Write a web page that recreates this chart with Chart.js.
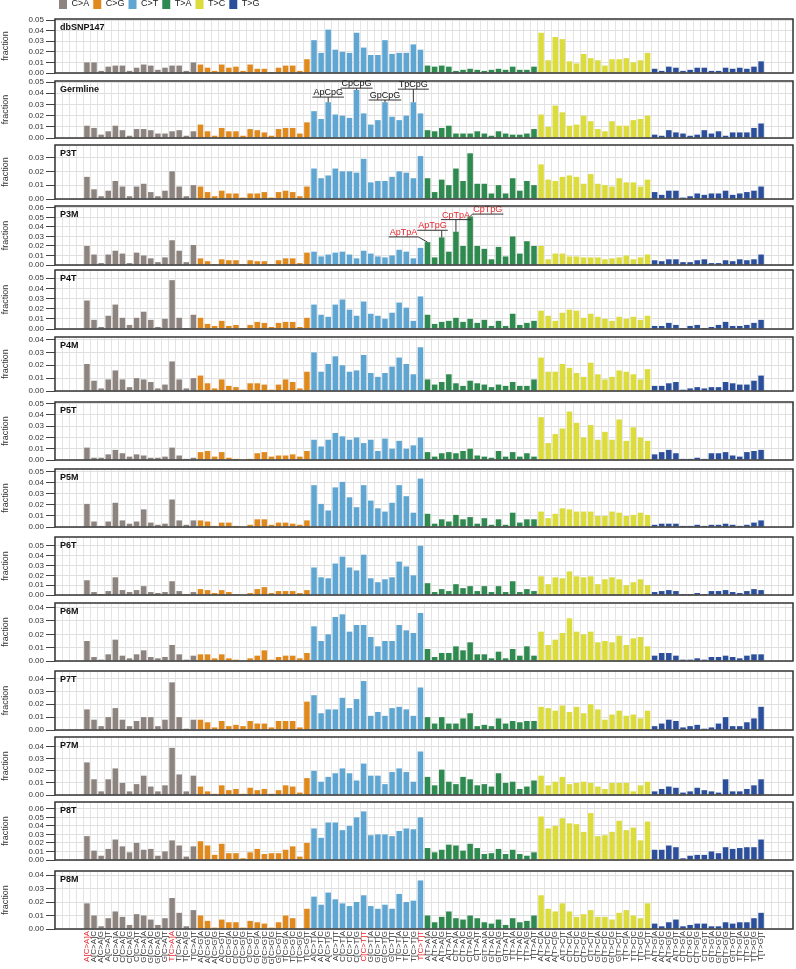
<!DOCTYPE html>
<html>
<head>
<meta charset="utf-8">
<script src="https://cdn.jsdelivr.net/npm/chart.js@4"></script>
<style>
  body { margin: 0; background: #fff; }
  #wrap { position: relative; width: 796px; height: 969px; overflow: hidden; }
  #wrap canvas { position: absolute; left: 0; }
</style>
</head>
<body>
<div id="wrap"></div>
<script>
const FONT = "'Liberation Sans Narrow', 'Liberation Sans', Arial, sans-serif";

// ---- data ----
const subTypes = ['C>A', 'C>G', 'C>T', 'T>A', 'T>C', 'T>G'];
const bases = ['A', 'C', 'G', 'T'];
const typeColors = ['#8d8480', '#e08a1e', '#5fa7d2', '#2f8a50', '#dcdc3c', '#2c4f9b'];
const redLabels = [0, 12, 39, 47];

const dbSNP147 = [
  0.010,0.010,0.002,0.006,0.007,0.007,0.002,0.005,0.008,0.007,0.003,0.005,0.007,0.007,0.002,0.010,
  0.008,0.005,0.002,0.008,0.005,0.006,0.002,0.008,0.004,0.004,0.001,0.005,0.007,0.007,0.002,0.013,
  0.031,0.019,0.041,0.022,0.020,0.019,0.038,0.024,0.017,0.017,0.031,0.018,0.019,0.019,0.027,0.022,
  0.007,0.006,0.007,0.006,0.002,0.003,0.004,0.003,0.002,0.003,0.004,0.003,0.006,0.003,0.003,0.006,
  0.038,0.012,0.034,0.032,0.011,0.009,0.018,0.014,0.012,0.007,0.013,0.013,0.014,0.010,0.012,0.019,
  0.004,0.002,0.006,0.005,0.002,0.003,0.005,0.005,0.002,0.002,0.005,0.004,0.005,0.004,0.006,0.011];
const germline = [
  0.011,0.009,0.003,0.006,0.011,0.007,0.002,0.008,0.008,0.007,0.004,0.004,0.006,0.007,0.002,0.006,
  0.012,0.006,0.002,0.009,0.006,0.006,0.002,0.008,0.007,0.005,0.002,0.008,0.009,0.009,0.004,0.014,
  0.024,0.017,0.032,0.021,0.020,0.018,0.043,0.022,0.012,0.016,0.032,0.019,0.016,0.020,0.032,0.022,
  0.007,0.006,0.009,0.011,0.004,0.004,0.004,0.006,0.004,0.002,0.006,0.004,0.003,0.003,0.004,0.008,
  0.021,0.010,0.029,0.023,0.011,0.012,0.020,0.015,0.008,0.006,0.015,0.011,0.011,0.016,0.017,0.020,
  0.003,0.002,0.007,0.005,0.004,0.002,0.003,0.007,0.004,0.006,0.002,0.005,0.005,0.005,0.009,0.013];
const p3T = [
  0.016,0.007,0.002,0.006,0.013,0.009,0.002,0.009,0.011,0.005,0.002,0.006,0.020,0.009,0.002,0.010,
  0.009,0.005,0.002,0.006,0.004,0.004,0.001,0.004,0.004,0.005,0.001,0.005,0.006,0.005,0.002,0.009,
  0.022,0.015,0.017,0.022,0.020,0.020,0.019,0.029,0.012,0.013,0.013,0.016,0.020,0.019,0.015,0.031,
  0.015,0.005,0.014,0.010,0.022,0.013,0.033,0.011,0.011,0.004,0.010,0.004,0.015,0.006,0.013,0.010,
  0.025,0.014,0.013,0.016,0.017,0.016,0.011,0.018,0.011,0.010,0.009,0.015,0.012,0.012,0.009,0.014,
  0.005,0.003,0.006,0.006,0.001,0.002,0.004,0.003,0.004,0.004,0.006,0.003,0.004,0.005,0.006,0.009];
const p3M = [
  0.020,0.011,0.002,0.011,0.015,0.012,0.002,0.013,0.010,0.007,0.003,0.008,0.026,0.015,0.003,0.021,
  0.007,0.004,0.001,0.006,0.005,0.005,0.001,0.005,0.004,0.004,0.001,0.005,0.007,0.007,0.002,0.013,
  0.014,0.009,0.011,0.013,0.014,0.011,0.007,0.015,0.012,0.009,0.008,0.010,0.016,0.014,0.007,0.018,
  0.024,0.008,0.029,0.014,0.035,0.020,0.051,0.020,0.017,0.006,0.019,0.009,0.030,0.012,0.025,0.020,
  0.020,0.006,0.012,0.012,0.009,0.009,0.008,0.008,0.008,0.006,0.007,0.008,0.010,0.006,0.008,0.011,
  0.005,0.004,0.006,0.006,0.003,0.003,0.005,0.006,0.002,0.002,0.005,0.004,0.006,0.005,0.006,0.011];
const p4T = [
  0.028,0.009,0.002,0.013,0.024,0.011,0.004,0.011,0.017,0.009,0.002,0.010,0.048,0.011,0.001,0.014,
  0.011,0.005,0.003,0.008,0.003,0.004,0.001,0.004,0.007,0.006,0.002,0.006,0.007,0.007,0.002,0.011,
  0.024,0.014,0.012,0.024,0.029,0.019,0.013,0.027,0.015,0.013,0.010,0.016,0.026,0.021,0.008,0.032,
  0.014,0.005,0.007,0.008,0.011,0.007,0.010,0.006,0.009,0.003,0.008,0.003,0.015,0.004,0.006,0.008,
  0.018,0.013,0.008,0.016,0.019,0.018,0.011,0.015,0.012,0.010,0.008,0.012,0.010,0.012,0.009,0.013,
  0.003,0.003,0.006,0.004,0.001,0.003,0.004,0.001,0.002,0.004,0.007,0.003,0.003,0.004,0.006,0.009];
const p4M = [
  0.021,0.008,0.002,0.009,0.016,0.009,0.003,0.010,0.009,0.007,0.002,0.005,0.023,0.009,0.002,0.010,
  0.012,0.006,0.002,0.009,0.004,0.003,0.001,0.006,0.006,0.005,0.001,0.005,0.009,0.007,0.002,0.015,
  0.030,0.015,0.021,0.027,0.020,0.015,0.016,0.028,0.014,0.011,0.014,0.019,0.026,0.021,0.013,0.034,
  0.009,0.005,0.007,0.013,0.006,0.004,0.008,0.006,0.005,0.003,0.005,0.004,0.007,0.004,0.004,0.009,
  0.026,0.015,0.015,0.021,0.018,0.014,0.011,0.022,0.013,0.009,0.011,0.016,0.015,0.013,0.009,0.017,
  0.004,0.004,0.006,0.007,0.001,0.002,0.003,0.002,0.003,0.003,0.007,0.006,0.005,0.005,0.008,0.012];
const p5T = [
  0.011,0.002,0.002,0.005,0.009,0.006,0.003,0.005,0.004,0.002,0.002,0.003,0.011,0.004,0.001,0.002,
  0.007,0.008,0.003,0.007,0.002,0.001,0.000,0.001,0.006,0.007,0.003,0.004,0.004,0.005,0.003,0.008,
  0.018,0.012,0.018,0.024,0.021,0.018,0.020,0.015,0.018,0.008,0.019,0.010,0.017,0.010,0.013,0.020,
  0.007,0.003,0.006,0.007,0.006,0.008,0.010,0.004,0.003,0.002,0.008,0.003,0.007,0.003,0.006,0.003,
  0.038,0.015,0.023,0.028,0.043,0.033,0.020,0.031,0.018,0.025,0.018,0.036,0.017,0.029,0.020,0.017,
  0.005,0.007,0.009,0.006,0.001,0.001,0.002,0.001,0.006,0.006,0.007,0.004,0.003,0.007,0.008,0.009];
const p5M = [
  0.021,0.005,0.001,0.005,0.022,0.006,0.003,0.005,0.016,0.004,0.002,0.003,0.025,0.006,0.002,0.006,
  0.006,0.005,0.001,0.004,0.004,0.001,0.000,0.002,0.007,0.007,0.002,0.004,0.004,0.003,0.002,0.006,
  0.038,0.021,0.015,0.036,0.041,0.027,0.018,0.038,0.024,0.017,0.014,0.022,0.038,0.028,0.013,0.044,
  0.012,0.003,0.007,0.005,0.011,0.007,0.009,0.003,0.008,0.002,0.007,0.002,0.013,0.004,0.007,0.007,
  0.014,0.008,0.012,0.017,0.016,0.014,0.014,0.014,0.010,0.010,0.014,0.013,0.010,0.011,0.013,0.011,
  0.002,0.003,0.003,0.003,0.001,0.001,0.002,0.001,0.002,0.002,0.003,0.002,0.001,0.002,0.004,0.006];
const p6T = [
  0.015,0.003,0.001,0.004,0.018,0.005,0.003,0.005,0.009,0.003,0.002,0.003,0.014,0.004,0.001,0.003,
  0.006,0.005,0.002,0.005,0.003,0.001,0.000,0.002,0.006,0.008,0.002,0.004,0.004,0.004,0.002,0.005,
  0.028,0.018,0.017,0.032,0.039,0.028,0.025,0.041,0.017,0.013,0.016,0.018,0.034,0.029,0.020,0.050,
  0.012,0.003,0.006,0.004,0.011,0.007,0.009,0.004,0.009,0.003,0.009,0.003,0.014,0.003,0.006,0.004,
  0.019,0.011,0.018,0.017,0.024,0.019,0.018,0.019,0.011,0.016,0.018,0.016,0.010,0.013,0.016,0.010,
  0.003,0.004,0.005,0.004,0.001,0.001,0.002,0.001,0.004,0.004,0.005,0.003,0.002,0.004,0.006,0.005];
const p6M = [
  0.015,0.003,0.001,0.005,0.016,0.004,0.002,0.005,0.008,0.003,0.002,0.003,0.012,0.005,0.001,0.004,
  0.005,0.005,0.002,0.005,0.002,0.001,0.000,0.002,0.004,0.008,0.001,0.003,0.004,0.004,0.002,0.006,
  0.026,0.015,0.020,0.033,0.035,0.022,0.027,0.027,0.018,0.011,0.015,0.015,0.027,0.023,0.021,0.036,
  0.009,0.003,0.006,0.006,0.011,0.008,0.014,0.005,0.005,0.002,0.007,0.002,0.009,0.004,0.011,0.004,
  0.022,0.012,0.016,0.021,0.032,0.022,0.020,0.022,0.014,0.015,0.014,0.019,0.012,0.017,0.018,0.011,
  0.004,0.006,0.006,0.004,0.001,0.001,0.002,0.001,0.003,0.003,0.004,0.003,0.002,0.004,0.005,0.005];
const p7T = [
  0.016,0.008,0.003,0.010,0.017,0.008,0.003,0.007,0.010,0.010,0.003,0.008,0.037,0.010,0.001,0.008,
  0.008,0.006,0.002,0.007,0.003,0.004,0.003,0.007,0.005,0.005,0.002,0.007,0.007,0.007,0.002,0.022,
  0.027,0.013,0.016,0.016,0.025,0.017,0.024,0.038,0.011,0.014,0.011,0.017,0.018,0.016,0.011,0.033,
  0.010,0.005,0.010,0.005,0.005,0.009,0.013,0.003,0.004,0.003,0.009,0.005,0.007,0.006,0.007,0.007,
  0.018,0.017,0.015,0.019,0.014,0.018,0.013,0.020,0.016,0.008,0.012,0.015,0.011,0.012,0.009,0.015,
  0.003,0.005,0.008,0.007,0.002,0.003,0.004,0.001,0.002,0.005,0.010,0.003,0.003,0.006,0.009,0.018];
const p7M = [
  0.027,0.013,0.003,0.013,0.022,0.010,0.003,0.009,0.016,0.007,0.003,0.008,0.039,0.017,0.003,0.016,
  0.007,0.003,0.001,0.008,0.004,0.005,0.001,0.006,0.004,0.005,0.001,0.004,0.008,0.007,0.002,0.014,
  0.020,0.011,0.015,0.018,0.022,0.018,0.012,0.026,0.016,0.016,0.009,0.019,0.022,0.019,0.011,0.036,
  0.015,0.008,0.021,0.011,0.009,0.015,0.013,0.008,0.009,0.007,0.018,0.010,0.011,0.005,0.007,0.012,
  0.016,0.008,0.011,0.015,0.009,0.010,0.011,0.010,0.007,0.005,0.010,0.010,0.010,0.003,0.008,0.011,
  0.003,0.005,0.007,0.006,0.002,0.003,0.006,0.004,0.003,0.002,0.013,0.003,0.003,0.005,0.008,0.013];
const p8T = [
  0.028,0.011,0.005,0.013,0.024,0.016,0.009,0.020,0.012,0.013,0.005,0.010,0.023,0.017,0.004,0.016,
  0.022,0.017,0.006,0.019,0.008,0.008,0.002,0.009,0.013,0.007,0.008,0.008,0.012,0.016,0.004,0.020,
  0.037,0.026,0.044,0.044,0.035,0.040,0.050,0.057,0.029,0.030,0.030,0.028,0.034,0.037,0.036,0.050,
  0.014,0.009,0.012,0.018,0.017,0.011,0.019,0.014,0.007,0.008,0.013,0.007,0.012,0.007,0.005,0.009,
  0.051,0.037,0.040,0.049,0.043,0.042,0.033,0.055,0.028,0.029,0.033,0.046,0.035,0.038,0.023,0.045,
  0.012,0.012,0.017,0.015,0.002,0.005,0.006,0.006,0.010,0.008,0.015,0.013,0.014,0.015,0.015,0.024];
const p8M = [
  0.019,0.010,0.002,0.008,0.013,0.009,0.003,0.011,0.010,0.007,0.003,0.008,0.023,0.012,0.002,0.014,
  0.010,0.006,0.001,0.007,0.005,0.005,0.001,0.006,0.005,0.004,0.001,0.005,0.010,0.008,0.000,0.015,
  0.024,0.018,0.027,0.022,0.019,0.017,0.020,0.025,0.017,0.015,0.018,0.015,0.026,0.020,0.021,0.036,
  0.010,0.005,0.009,0.013,0.008,0.007,0.010,0.008,0.005,0.004,0.007,0.003,0.008,0.005,0.006,0.010,
  0.025,0.015,0.013,0.019,0.013,0.009,0.011,0.014,0.009,0.009,0.007,0.012,0.014,0.010,0.008,0.019,
  0.004,0.002,0.005,0.007,0.002,0.003,0.004,0.004,0.002,0.002,0.005,0.004,0.005,0.005,0.008,0.012];

const panelNames = ['dbSNP147', 'Germline', 'P3T', 'P3M', 'P4T', 'P4M', 'P5T', 'P5M', 'P6T', 'P6M', 'P7T', 'P7M', 'P8T', 'P8M'];
const panelValues = [dbSNP147, germline, p3T, p3M, p4T, p4M, p5T, p5M, p6T, p6M, p7T, p7M, p8T, p8M];
const panelMax = [0.051, 0.051, 0.039, 0.062, 0.058, 0.042, 0.0515, 0.0527, 0.059, 0.0435, 0.0458, 0.048, 0.068, 0.043];

// annotated contexts (index into the 96, label, height of the underline)
const germlineNotes = [
  {index: 34, text: 'ApCpG', y: 0.0366, dx: 0},
  {index: 38, text: 'CpCpG', y: 0.0446, dx: 0},
  {index: 42, text: 'GpCpG', y: 0.034, dx: 0},
  {index: 46, text: 'TpCpG', y: 0.0437, dx: 0}
];
const p3MNotes = [
  {index: 48, text: 'ApTpA', y: 0.0295, dx: -3.4},
  {index: 50, text: 'ApTpG', y: 0.0365, dx: -1.3},
  {index: 52, text: 'CpTpA', y: 0.0477, dx: 0},
  {index: 54, text: 'CpTpG', y: 0.0535, dx: 2.5}
];

// ---- layout ----
const panelTop = [19, 81, 145, 206, 270, 337, 402, 469, 537, 603, 671, 737, 802, 871];
const panelBottom = [74, 138, 199, 265, 329, 391, 460, 527, 595, 661, 730, 795, 860, 929];
const EDGE = 4;

const contextLabels = [];
subTypes.forEach(t => bases.forEach(a => bases.forEach(b => contextLabels.push(a + '[' + t + ']' + b))));
const blanks = new Array(EDGE).fill('');
const labels = blanks.concat(contextLabels, blanks);

function buildDatasets(values) {
  return subTypes.map((t, k) => ({
    label: t,
    data: labels.map((_, i) => {
      const j = i - EDGE;
      return (j >= k * 16 && j < k * 16 + 16) ? values[j] : null;
    }),
    backgroundColor: typeColors[k],
    borderWidth: 0,
    grouped: false,
    barPercentage: 0.78,
    categoryPercentage: 1
  }));
}

const deco = {
  id: 'deco',
  afterLayout(chart, args, o) {
    chart.canvas.style.top = (o.top - chart.chartArea.top) + 'px';
  },
  afterDatasetsDraw(chart, args, o) {
    const {ctx, chartArea: a, scales: {x, y}} = chart;
    const slot = x.getPixelForValue(1) - x.getPixelForValue(0);
    ctx.save();
    ctx.font = '9px ' + FONT;
    ctx.textAlign = 'center';
    ctx.textBaseline = 'alphabetic';
    (o.notes || []).forEach(n => {
      const bx = x.getPixelForValue(n.index + EDGE);
      const by = y.getPixelForValue(o.values[n.index]);
      const cx = bx + n.dx * slot;
      const uy = y.getPixelForValue(n.y);
      const w = ctx.measureText(n.text).width;
      const l = cx - w / 2 - 1, r = cx + w / 2 + 1;
      ctx.fillStyle = o.noteColor;
      ctx.fillText(n.text, cx, uy - 2);
      ctx.strokeStyle = '#333';
      ctx.lineWidth = 1;
      ctx.beginPath();
      ctx.moveTo(l, uy); ctx.lineTo(r, uy);
      const sx = Math.min(Math.max(bx, l), r);
      ctx.moveTo(sx, uy); ctx.lineTo(bx, by);
      ctx.stroke();
    });
    ctx.strokeStyle = '#333';
    ctx.lineWidth = 1.5;
    ctx.strokeRect(a.left, a.top, a.width, a.height);
    ctx.font = 'bold 9px ' + FONT;
    ctx.fillStyle = '#111';
    ctx.textAlign = 'left';
    ctx.textBaseline = 'top';
    ctx.fillText(o.name, a.left + 5, a.top + 4);
    ctx.restore();
  }
};

const wrap = document.getElementById('wrap');
panelNames.forEach((name, p) => {
  const first = p === 0;
  const last = p === panelNames.length - 1;
  const xh = last ? 42 : 6;
  const padTop = first ? 0 : 8;
  const legendH = first ? 23 : 0;
  const canvas = document.createElement('canvas');
  canvas.width = 796;
  canvas.height = padTop + legendH + (panelBottom[p] - panelTop[p]) + xh;
  wrap.appendChild(canvas);

  new Chart(canvas, {
    type: 'bar',
    data: {labels: labels, datasets: buildDatasets(panelValues[p])},
    options: {
      responsive: false,
      animation: false,
      layout: {padding: {top: padTop, right: 3, left: 0, bottom: 0}},
      scales: {
        x: {
          offset: true,
          grid: {display: true, offset: true, color: '#e4e4e4', lineWidth: 1, drawTicks: false},
          border: {display: false},
          ticks: {
            display: last,
            autoSkip: false,
            maxRotation: 90,
            minRotation: 90,
            padding: 2,
            font: {size: 8, family: FONT, lineHeight: 0.4},
            color: ctx => redLabels.includes(ctx.index - EDGE) ? '#e8262e' : '#333'
          },
          afterFit: s => {
            s.height = xh;
            s.paddingLeft = 0;
            s.paddingRight = 0;
          }
        },
        y: {
          min: 0,
          max: panelMax[p],
          grid: {color: '#e0e0e0', lineWidth: 1, tickColor: '#444', tickLength: 9, drawTicks: true},
          border: {display: false},
          ticks: {
            stepSize: 0.01,
            autoSkip: false,
            includeBounds: false,
            padding: 2,
            font: {size: 8, family: FONT},
            color: '#333',
            callback: v => v.toFixed(2)
          },
          title: {display: true, text: 'fraction', font: {size: 9, family: FONT}, color: '#333', padding: 0},
          afterFit: s => { s.width = 55; s.paddingTop = 0; s.paddingBottom = 0; }
        }
      },
      plugins: {
        legend: {
          display: first,
          position: 'top',
          align: 'start',
          fullSize: false,
          labels: {boxWidth: 8, boxHeight: 10, padding: 4, font: {size: 9, family: FONT}, color: '#222'}
        },
        tooltip: {enabled: false},
        deco: {
          top: panelTop[p],
          name: name,
          values: panelValues[p],
          notes: p === 1 ? germlineNotes : (p === 3 ? p3MNotes : []),
          noteColor: p === 3 ? '#e8262e' : '#111'
        }
      }
    },
    plugins: [deco]
  });
});
</script>
</body>
</html>
